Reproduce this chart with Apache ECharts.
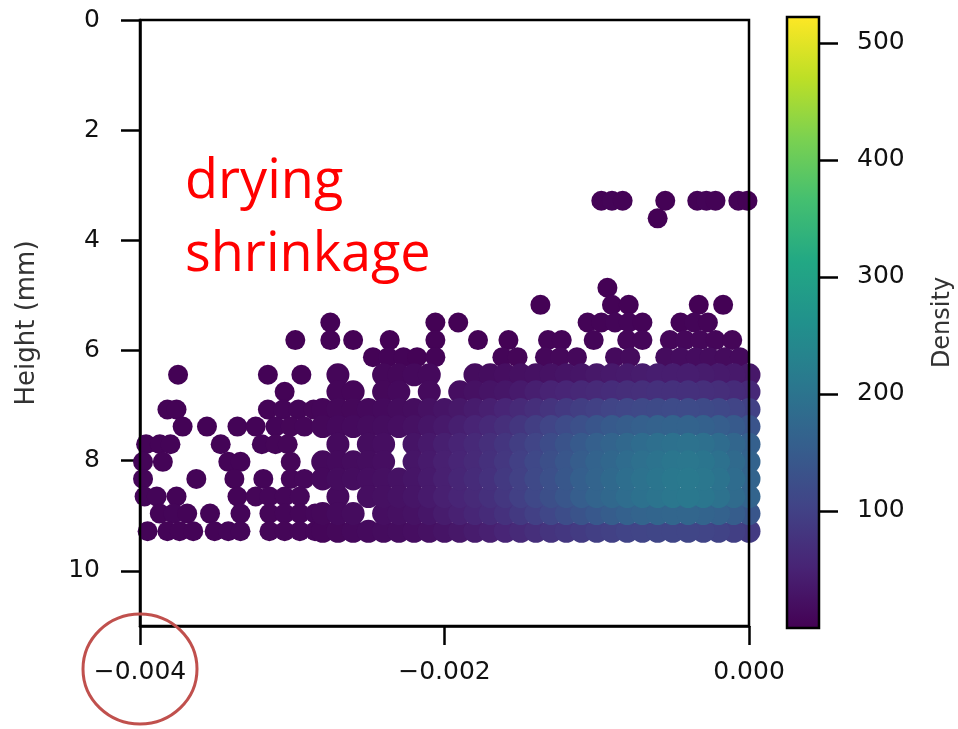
<!DOCTYPE html>
<html>
<head>
<meta charset="utf-8">
<script src="https://cdn.jsdelivr.net/npm/echarts@6/dist/echarts.min.js"></script>
<style>
  html, body { margin: 0; padding: 0; background: #ffffff; }
  #chart { width: 958px; height: 729px; }
</style>
</head>
<body>
<div id="chart"></div>
<script>
// Axis ticks
const strainTicks = [-0.004, -0.002, 0];
const heightTicks = [0, 2, 4, 6, 8, 10];
const densityTicks = [100, 200, 300, 400, 500];
const densityRange = [0, 522];

// Isolated points: [strain, height (mm), density]
const sparsePoints = [
  [-0.00097, 3.28, 3], [-0.0009, 3.28, 4], [-0.00083, 3.28, 3], [-0.00055, 3.28, 2],
  [-0.00034, 3.28, 3], [-0.00028, 3.28, 4], [-0.00022, 3.28, 3], [-0.00007, 3.28, 3], [-0.00001, 3.28, 2],
  [-0.0006, 3.60, 2],
  [-0.00093, 4.86, 2],
  [-0.00137, 5.17, 2], [-0.0009, 5.17, 3], [-0.00079, 5.17, 3], [-0.00033, 5.17, 2], [-0.00017, 5.17, 2],
  [-0.00275, 5.49, 2], [-0.00206, 5.49, 2], [-0.00191, 5.49, 2], [-0.00106, 5.49, 4], [-0.00097, 5.49, 5],
  [-0.00088, 5.49, 6], [-0.00079, 5.49, 6], [-0.0007, 5.49, 5], [-0.00045, 5.49, 5], [-0.00036, 5.49, 6], [-0.00027, 5.49, 5],
  [-0.00298, 5.81, 2], [-0.00275, 5.81, 3], [-0.0026, 5.81, 2], [-0.00236, 5.81, 2], [-0.00206, 5.81, 3],
  [-0.00178, 5.81, 2], [-0.00158, 5.81, 2], [-0.00132, 5.81, 4], [-0.00123, 5.81, 4], [-0.00102, 5.81, 6],
  [-0.0008, 5.81, 8], [-0.0007, 5.81, 8], [-0.00052, 5.81, 8], [-0.00042, 5.81, 9], [-0.00032, 5.81, 9],
  [-0.00022, 5.81, 8], [-0.00011, 5.81, 7],
  [-0.00247, 6.12, 3], [-0.00237, 6.12, 4], [-0.00227, 6.12, 4], [-0.00218, 6.12, 3], [-0.00206, 6.12, 4],
  [-0.00162, 6.12, 6], [-0.00152, 6.12, 7], [-0.00134, 6.12, 9], [-0.00124, 6.12, 10], [-0.00113, 6.12, 11],
  [-0.00088, 6.12, 14], [-0.00078, 6.12, 15], [-0.00055, 6.12, 16], [-0.00045, 6.12, 17], [-0.00035, 6.12, 17],
  [-0.00026, 6.12, 16], [-0.00016, 6.12, 15], [-0.00006, 6.12, 14],
  [-0.00375, 6.44, 2], [-0.00316, 6.44, 3], [-0.00294, 6.44, 3],
  [-0.00305, 6.75, 3],
  [-0.00382, 7.07, 3], [-0.00376, 7.07, 3], [-0.00316, 7.07, 5], [-0.00306, 7.07, 6], [-0.00296, 7.07, 6], [-0.00286, 7.07, 7],
  [-0.00372, 7.38, 3], [-0.00356, 7.38, 3], [-0.00336, 7.38, 4], [-0.00324, 7.38, 5], [-0.00311, 7.38, 6],
  [-0.00301, 7.38, 7], [-0.00292, 7.38, 8],
  [-0.00396, 7.70, 5], [-0.00387, 7.70, 5], [-0.0038, 7.70, 5], [-0.00347, 7.70, 4], [-0.0032, 7.70, 6],
  [-0.00311, 7.70, 7], [-0.00303, 7.70, 7],
  [-0.00398, 8.02, 6], [-0.00385, 8.02, 5], [-0.00342, 8.02, 5], [-0.00334, 8.02, 5], [-0.00301, 8.02, 7],
  [-0.00398, 8.33, 6], [-0.00363, 8.33, 4], [-0.00338, 8.33, 5], [-0.00319, 8.33, 6], [-0.00301, 8.33, 8], [-0.00292, 8.33, 9],
  [-0.00397, 8.65, 6], [-0.00389, 8.65, 6], [-0.00376, 8.65, 5], [-0.00336, 8.65, 5], [-0.00324, 8.65, 7],
  [-0.00315, 8.65, 8], [-0.00305, 8.65, 8], [-0.00295, 8.65, 9],
  [-0.00387, 8.96, 5], [-0.00378, 8.96, 6], [-0.00369, 8.96, 5], [-0.00354, 8.96, 5], [-0.00334, 8.96, 6],
  [-0.00315, 8.96, 7], [-0.00305, 8.96, 8], [-0.00295, 8.96, 8], [-0.00285, 8.96, 9],
  [-0.00395, 9.28, 4], [-0.00382, 9.28, 5], [-0.00374, 9.28, 5], [-0.00365, 9.28, 5], [-0.00351, 9.28, 5],
  [-0.00342, 9.28, 6], [-0.00334, 9.28, 6], [-0.00315, 9.28, 7], [-0.00305, 9.28, 7], [-0.00295, 9.28, 8], [-0.00285, 9.28, 8]
];

// Densely populated band: strain columns x height rows, density per cell (0 = no point)
const bandStrain = [
  -0.0028, -0.0027, -0.0026, -0.0025, -0.0024, -0.0023, -0.0022, -0.0021, -0.002, -0.0019,
  -0.0018, -0.0017, -0.0016, -0.0015, -0.0014, -0.0013, -0.0012, -0.0011, -0.001, -0.0009,
  -0.0008, -0.0007, -0.0006, -0.0005, -0.0004, -0.0003, -0.0002, -0.0001, 0
];
const bandHeight = [6.44, 6.75, 7.07, 7.38, 7.70, 8.02, 8.33, 8.65, 8.96, 9.28];
const bandDensity = [
  [0, 8, 0, 0, 10, 10, 12, 12, 0, 0, 16, 18, 20, 22, 24, 26, 28, 30, 34, 36, 38, 40, 42, 42, 42, 40, 38, 36, 34],
  [0, 8, 8, 0, 10, 12, 0, 14, 0, 20, 24, 28, 32, 38, 44, 50, 54, 58, 62, 66, 68, 70, 72, 72, 72, 70, 68, 64, 60],
  [8, 10, 10, 12, 14, 16, 18, 24, 28, 34, 40, 46, 54, 62, 70, 78, 86, 94, 100, 106, 110, 114, 116, 118, 118, 116, 112, 106, 100],
  [10, 12, 14, 16, 18, 20, 24, 30, 36, 44, 52, 60, 70, 82, 94, 106, 118, 128, 138, 146, 152, 158, 162, 164, 164, 160, 154, 146, 136],
  [0, 14, 0, 18, 20, 0, 28, 36, 44, 52, 60, 70, 80, 94, 106, 120, 134, 146, 158, 168, 176, 184, 190, 194, 196, 192, 184, 172, 158],
  [12, 14, 16, 18, 20, 0, 30, 38, 46, 54, 62, 72, 84, 98, 112, 126, 140, 152, 164, 174, 184, 192, 198, 204, 206, 202, 194, 180, 164],
  [12, 16, 18, 20, 22, 26, 30, 38, 46, 56, 64, 74, 86, 100, 114, 128, 142, 156, 168, 178, 188, 196, 202, 208, 210, 206, 198, 184, 168],
  [0, 14, 0, 20, 22, 26, 30, 38, 46, 54, 62, 72, 84, 98, 112, 126, 140, 154, 166, 176, 186, 194, 200, 206, 208, 204, 196, 182, 166],
  [10, 14, 16, 0, 20, 22, 26, 32, 40, 48, 56, 64, 74, 86, 98, 110, 122, 134, 144, 152, 160, 166, 170, 172, 172, 168, 162, 152, 140],
  [8, 10, 12, 14, 16, 18, 20, 24, 28, 34, 40, 46, 54, 62, 70, 78, 84, 90, 96, 100, 104, 106, 108, 108, 108, 106, 102, 96, 90]
];

// Colormap (viridis)
const viridis = ['#440154', '#482475', '#414487', '#355f8d', '#2a788e', '#21918c',
                 '#22a884', '#44bf70', '#7ad151', '#bddf26', '#fde725'];

// Band cells as points, densest drawn last
const bandPoints = [];
bandHeight.forEach((h, i) => {
  bandStrain.forEach((s, j) => {
    const d = bandDensity[i][j];
    if (d > 0) bandPoints.push([s, h, d]);
  });
});
bandPoints.sort((a, b) => a[2] - b[2]);

const FONT = 'DejaVu Sans';
const TICK_COLOR = '#111111';
const SPINE = 2.5;

const chart = echarts.init(document.getElementById('chart'), null, { renderer: 'canvas' });

const gradientStops = viridis.map((c, i) => ({ offset: i / (viridis.length - 1), color: c }));

chart.setOption({
  animation: false,
  backgroundColor: '#ffffff',
  grid: [
    { left: 140, top: 20, width: 609, height: 606, show: true, z: 10,
      backgroundColor: 'transparent', borderColor: '#000', borderWidth: SPINE },
    { left: 787, top: 17, width: 32, height: 611, show: true, z: 10,
      backgroundColor: 'transparent', borderColor: '#000', borderWidth: SPINE }
  ],
  xAxis: [
    {
      gridIndex: 0, type: 'value', min: -0.004, max: 0, interval: 0.002, position: 'bottom',
      axisLine: { show: true, onZero: false, lineStyle: { color: '#000', width: SPINE } },
      axisTick: { show: true, inside: false, length: 19, lineStyle: { color: '#000', width: SPINE }, customValues: strainTicks },
      axisLabel: {
        customValues: strainTicks, margin: 34, fontSize: 25, fontFamily: FONT, color: TICK_COLOR,
        formatter: v => (v < 0 ? '\u2212' : '') + Math.abs(v).toFixed(3)
      },
      splitLine: { show: false }
    },
    {
      gridIndex: 1, type: 'category', data: ['Density'], show: false
    }
  ],
  yAxis: [
    {
      gridIndex: 0, type: 'value', inverse: true, min: 0, max: 11, interval: 2, position: 'left',
      axisLine: { show: true, onZero: false, lineStyle: { color: '#000', width: SPINE } },
      axisTick: { show: true, inside: false, length: 19, lineStyle: { color: '#000', width: SPINE }, customValues: heightTicks },
      axisLabel: { customValues: heightTicks, margin: 40, fontSize: 25, fontFamily: FONT, color: TICK_COLOR },
      splitLine: { show: false },
      name: 'Height (mm)', nameLocation: 'middle', nameGap: 100,
      nameTextStyle: { fontSize: 26, fontFamily: FONT, color: '#333' }
    },
    {
      gridIndex: 1, type: 'value', position: 'right', min: densityRange[0], max: densityRange[1],
      axisLine: { show: false, onZero: false },
      axisTick: { show: true, inside: false, length: 19, lineStyle: { color: '#000', width: SPINE }, customValues: densityTicks },
      axisLabel: { customValues: densityTicks, margin: 38, fontSize: 25, fontFamily: FONT, color: TICK_COLOR },
      splitLine: { show: false },
      name: 'Density', nameLocation: 'middle', nameGap: 112,
      nameTextStyle: { fontSize: 24, fontFamily: FONT, color: '#333' }
    }
  ],
  visualMap: {
    type: 'continuous', show: false, dimension: 2, seriesIndex: [0, 1],
    min: densityRange[0], max: densityRange[1],
    inRange: { color: viridis }
  },
  series: [
    {
      name: 'sparse', type: 'scatter', xAxisIndex: 0, yAxisIndex: 0,
      symbol: 'circle', symbolSize: 20, clip: true, data: sparsePoints,
      itemStyle: { opacity: 1 }
    },
    {
      name: 'band', type: 'scatter', xAxisIndex: 0, yAxisIndex: 0,
      symbol: 'circle', symbolSize: 23, clip: true, data: bandPoints,
      itemStyle: { opacity: 1 }
    },
    {
      name: 'colorbar', type: 'bar', xAxisIndex: 1, yAxisIndex: 1,
      barWidth: '100%', data: [densityRange[1]], silent: true,
      itemStyle: { color: new echarts.graphic.LinearGradient(0, 1, 0, 0, gradientStops) }
    }
  ],
  graphic: [
    { type: 'text', left: 185, top: 156, z: 20,
      style: { text: 'drying', font: '54px "Open Sans"', fill: '#ff0000' } },
    { type: 'text', left: 185, top: 229, z: 20,
      style: { text: 'shrinkage', font: '54px "Open Sans"', fill: '#ff0000' } },
    { type: 'ellipse', z: 20,
      shape: { cx: 140, cy: 669, rx: 57, ry: 55 },
      style: { fill: 'none', stroke: '#c0504d', lineWidth: 3 } }
  ]
});
</script>
</body>
</html>
